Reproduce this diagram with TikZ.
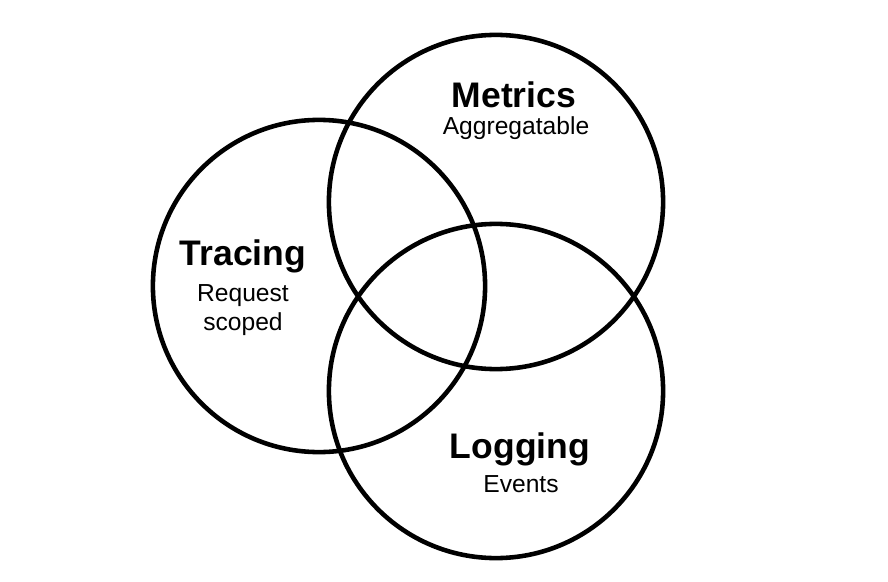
\documentclass[tikz,border=0pt]{standalone}
\usepackage{fontspec}
\setmainfont{Liberation Sans}
\usetikzlibrary{positioning}

\begin{document}
\begin{tikzpicture}[
    x=0.01cm, y=-0.01cm,
    ring/.style={draw, line width=1.3pt},
    title/.style={font=\fontsize{10.1}{12}\selectfont\bfseries, inner sep=0pt, anchor=base},
    sub/.style={font=\fontsize{7}{8}\selectfont, inner sep=0pt, anchor=base, align=center}
]
    \useasboundingbox (0,0) rectangle (888,582);

    % Circles
    \draw[ring] (496,202) circle[radius=1.67cm];
    \draw[ring] (319,286) circle[radius=1.66cm];
    \draw[ring] (496,391) circle[radius=1.67cm];

    % Metrics
    \node[title] (metrics) at (514,108) {Metrics};
    \node[sub] (metricssub) at (516,135) {Aggregatable};

    % Tracing
    \node[title] (tracing) at (243,265) {Tracing};
    \node[sub] (tracingsub) at (243,330) {Request\\scoped};

    % Logging
    \node[title] (logging) at (520,458) {Logging};
    \node[sub] (loggingsub) at (521,492) {Events};

\end{tikzpicture}
\end{document}
